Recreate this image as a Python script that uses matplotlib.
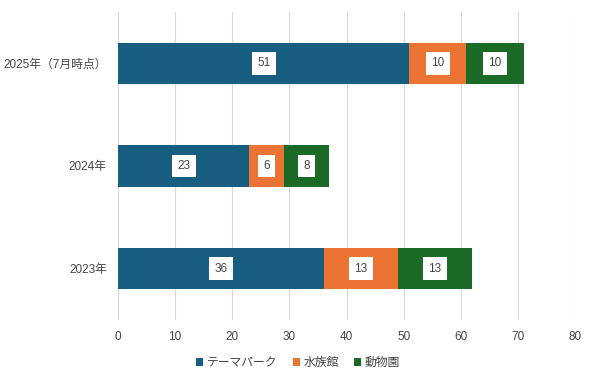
import matplotlib.pyplot as plt
import numpy as np

plt.rcParams['font.family'] = ['Liberation Sans', 'Noto Sans CJK JP', 'DejaVu Sans']

categories = ['2023年', '2024年', '2025年（7月時点）']
series_names = ['テーマパーク', '水族館', '動物園']
theme_park = [36, 23, 51]
aquarium = [13, 6, 10]
zoo = [13, 8, 10]
colors = ['#175e80', '#eb7434', '#1b6a25']

fig = plt.figure(figsize=(5.9, 3.78), dpi=100)
ax = fig.add_axes([0.2, 0.1534, 0.7746, 0.815])

y = np.arange(len(categories))
left = np.zeros(len(categories))
for name, vals, c in zip(series_names, [theme_park, aquarium, zoo], colors):
    bars = ax.barh(y, vals, left=left, height=0.4, color=c, label=name, zorder=3)
    for b, v in zip(bars, vals):
        ax.text(b.get_x() + b.get_width() / 2, b.get_y() + b.get_height() / 2, str(v),
                ha='center', va='center', fontsize=8.5, color='#444444', zorder=4,
                bbox=dict(boxstyle='square,pad=0.45', fc='white', ec='none'))
    left += np.array(vals)

ax.set_xlim(0, 80)
ax.set_ylim(-0.5, 2.5)
ax.set_xticks(range(0, 81, 10))
ax.set_yticks(y)
ax.set_yticklabels(categories)
ax.grid(axis='x', color='#d9d9d9', linewidth=0.8, zorder=0)
for s in ax.spines.values():
    s.set_visible(False)
ax.tick_params(axis='both', length=0, labelsize=8.5, colors='#444444')
ax.tick_params(axis='x', pad=8)
ax.tick_params(axis='y', pad=8)

fig.legend(loc='lower center', bbox_to_anchor=(0.505, -0.005), ncol=3, frameon=False,
           fontsize=8.5, handlelength=0.6, handleheight=0.6, handletextpad=0.3,
           columnspacing=1.3, labelcolor='#444444')

fig.savefig('out.png', dpi=100)
